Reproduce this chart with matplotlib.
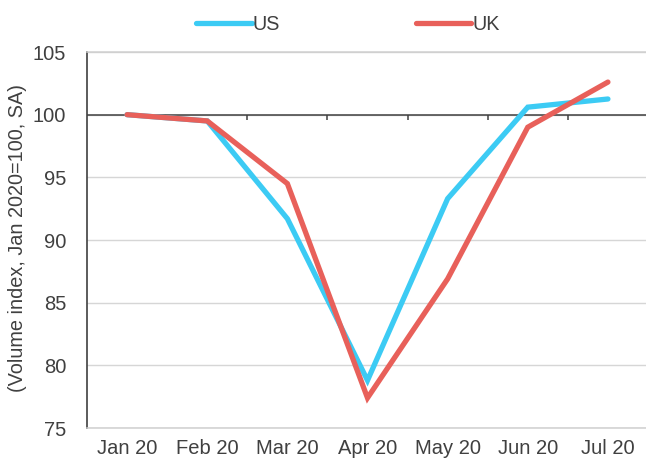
import matplotlib
matplotlib.use("Agg")
import matplotlib.pyplot as plt
import numpy as np

months = ["Jan 20", "Feb 20", "Mar 20", "Apr 20", "May 20", "Jun 20", "Jul 20"]
us = [100.0, 99.5, 91.7, 78.8, 93.3, 100.6, 101.25]
uk = [100.0, 99.5, 94.5, 77.4, 86.9, 99.0, 102.6]
yticks = [75, 80, 85, 90, 95, 100, 105]

plt.rcParams['font.family'] = ['Liberation Sans', 'DejaVu Sans']
text_color = '#404040'

fig = plt.figure(figsize=(6.46, 4.61), dpi=100)
ax = fig.add_axes([87/646, 1 - 428/461, 561/646, (428 - 52)/461])

x = np.arange(len(months))
l1, = ax.plot(x, us, color='#3ccbf4', lw=3.8, solid_capstyle='round', solid_joinstyle='miter', label='US', zorder=3)
l2, = ax.plot(x, uk, color='#e8605a', lw=3.8, solid_capstyle='round', solid_joinstyle='miter', label='UK', zorder=4)

ax.set_xlim(-0.5, len(months) - 0.5)
ax.set_ylim(75, 105)
ax.set_yticks(yticks)
ax.set_xticks(x)
ax.set_xticklabels(months)
ax.tick_params(axis='both', length=0, labelsize=14.5, colors=text_color)
ax.tick_params(axis='y', pad=15)
ax.tick_params(axis='x', pad=8)

ax.yaxis.grid(True, color='#d6d6d6', lw=1.0)
ax.set_axisbelow(True)

# horizontal axis crossing at 100 with tick marks at category boundaries
ax.axhline(100, color='#404040', lw=1.1, zorder=2)
bounds = x[:-1] + 0.5
ax.vlines(bounds, 99.6, 100, color='#404040', lw=1.1, zorder=2)

for s in ['top', 'bottom']:
    ax.spines[s].set_color('#cfcfcf')
    ax.spines[s].set_linewidth(1.1)
ax.spines['left'].set_color('#404040')
ax.spines['left'].set_linewidth(1.2)
ax.spines['right'].set_visible(False)

fig.text(18/646, 1 - 238/461, "(Volume index, Jan 2020=100, SA)", rotation=90,
         ha='center', va='center', fontsize=14.3, color=text_color)

leg = fig.legend(handles=[l1, l2], loc='center', bbox_to_anchor=(348/646, 1 - 24/461),
                 ncol=2, frameon=False, fontsize=14.2, handlelength=2.8,
                 handletextpad=0.05, columnspacing=6.9, borderaxespad=0)
for t in leg.get_texts():
    t.set_color(text_color)

fig.savefig("out.png", dpi=100)
